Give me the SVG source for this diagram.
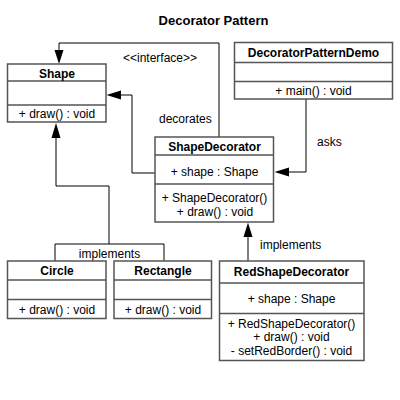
<svg xmlns="http://www.w3.org/2000/svg" width="400" height="400" viewBox="0 0 400 400">
<style>
.box{fill:#fff;stroke:#555;stroke-width:1.5}
.sep{stroke:#555;stroke-width:1.5}
.ln{fill:none;stroke:#000;stroke-width:1}
.hd{fill:#000}
text{font-family:"Liberation Sans",Arial,sans-serif;font-size:12px;fill:#000}
.b{font-weight:bold}
.m{text-anchor:middle}
.t{font-size:13px;font-weight:bold}
</style>
<rect width="400" height="400" fill="#fff"/>
<text class="t m" x="213.5" y="25">Decorator Pattern</text>
<g id="connectors">
<path class="ln" d="M219,137 V43 H59 V51"/>
<polygon class="hd" points="59,64 54.5,50 63.5,50"/>
<text x="123" y="62">&lt;&lt;interface&gt;&gt;</text>
<path class="ln" d="M155,173 H132 V95 H120"/>
<polygon class="hd" points="106.5,95 121,90.5 121,99.5"/>
<text x="159" y="123">decorates</text>
<path class="ln" d="M306,99 V172 H288"/>
<polygon class="hd" points="274.5,172 289,167.5 289,176.5"/>
<text x="317" y="145.5">asks</text>
<path class="ln" d="M248,261 V236"/>
<polygon class="hd" points="248,222.5 243.5,237 252.5,237"/>
<text x="260" y="249">implements</text>
<path class="ln" d="M56,137 V186 H109 V244"/>
<polygon class="hd" points="56,123 51.5,138 60.5,138"/>
<path class="ln" d="M55,261 V244 H164 V261"/>
<text class="m" x="109.5" y="257.5">implements</text>
</g>
<g id="Shape">
<rect class="box" x="7.5" y="64" width="98.5" height="58"/>
<line class="sep" x1="7.5" y1="81" x2="106" y2="81"/>
<line class="sep" x1="7.5" y1="105" x2="106" y2="105"/>
<text class="b m" x="57" y="77.5">Shape</text>
<text class="m" x="57" y="117.5">+ draw() : void</text>
</g>
<g id="DecoratorPatternDemo">
<rect class="box" x="234.5" y="42.5" width="158" height="56.5"/>
<line class="sep" x1="234.5" y1="62.5" x2="392.5" y2="62.5"/>
<line class="sep" x1="234.5" y1="81.5" x2="392.5" y2="81.5"/>
<text class="b m" x="313.5" y="56.5">DecoratorPatternDemo</text>
<text class="m" x="313.5" y="95">+ main() : void</text>
</g>
<g id="ShapeDecorator">
<rect class="box" x="155" y="137" width="118.5" height="85"/>
<line class="sep" x1="155" y1="155" x2="273.5" y2="155"/>
<line class="sep" x1="155" y1="184" x2="273.5" y2="184"/>
<text class="b m" x="214.5" y="151">ShapeDecorator</text>
<text class="m" x="214.5" y="176">+ shape : Shape</text>
<text class="m" x="214.5" y="202">+ ShapeDecorator()</text>
<text class="m" x="215" y="215.5">+ draw() : void</text>
</g>
<g id="Circle">
<rect class="box" x="7.5" y="261" width="98.5" height="57.5"/>
<line class="sep" x1="7.5" y1="280" x2="106" y2="280"/>
<line class="sep" x1="7.5" y1="299.5" x2="106" y2="299.5"/>
<text class="b m" x="57" y="274.5">Circle</text>
<text class="m" x="57" y="314">+ draw() : void</text>
</g>
<g id="Rectangle">
<rect class="box" x="114" y="261" width="97.5" height="57.5"/>
<line class="sep" x1="114" y1="280" x2="211.5" y2="280"/>
<line class="sep" x1="114" y1="299.5" x2="211.5" y2="299.5"/>
<text class="b m" x="163" y="274.5">Rectangle</text>
<text class="m" x="163" y="314">+ draw() : void</text>
</g>
<g id="RedShapeDecorator">
<rect class="box" x="219.5" y="261" width="144.5" height="99.5"/>
<line class="sep" x1="219.5" y1="283" x2="364" y2="283"/>
<line class="sep" x1="219.5" y1="313.5" x2="364" y2="313.5"/>
<text class="b m" x="291.5" y="275.5">RedShapeDecorator</text>
<text class="m" x="291.5" y="302.5">+ shape : Shape</text>
<text class="m" x="291.5" y="328">+ RedShapeDecorator()</text>
<text class="m" x="291.5" y="341">+ draw() : void</text>
<text class="m" x="291.5" y="355">- setRedBorder() : void</text>
</g>
</svg>
